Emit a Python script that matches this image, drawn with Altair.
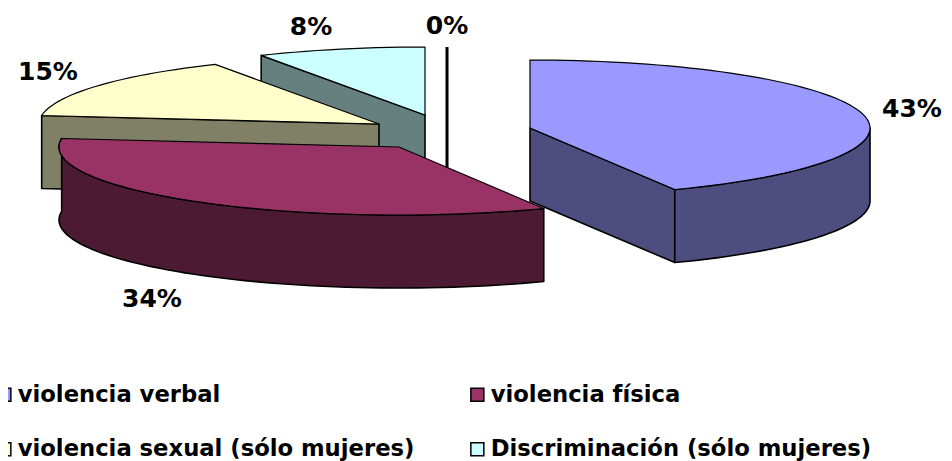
import math
import altair as alt

names = ["violencia verbal", "violencia física", "violencia sexual (sólo mujeres)", "Discriminación (sólo mujeres)", "otros"]
values = [43, 34, 15, 8, 0]
top_colors = ["#9999FF", "#993366", "#FFFFCC", "#CCFFFF"]
wall_colors = ["#4D4D80", "#4D1A33", "#808066", "#668080"]

# layout of the exploded, tilted pie (page pixels)
apex_x = [530, 399, 379, 425, 447]
apex_y = [128, 147, 124, 115, 115]
RX, RY, DEPTH = 340, 68, 73
label_x = [912, 152, 48, 311, 447]
label_y = [109, 299, 72, 27, 26]
M = 8
FONT = "DejaVu Sans"

total = sum(values)
def rim(i, a):
    r = math.radians(a)
    return [apex_x[i] + RX * math.sin(r) - M, apex_y[i] - RY * math.cos(r) - M]

def down(p):
    return [p[0], p[1] + DEPTH]

def feature(coords, name, color):
    ring = coords + [coords[0]]
    return {"type": "Feature", "properties": {"name": name, "color": color},
            "geometry": {"type": "Polygon", "coordinates": [ring]}}

tops, walls, zero = [], [], []
start = 0.0
spans = []
for i, v in enumerate(values):
    end = start + v / total * 360
    spans.append((start, end))
    start = end

for i in range(4):
    a0, a1 = spans[i]
    steps = max(2, int((a1 - a0) / 2))
    arc = [rim(i, a0 + (a1 - a0) * k / steps) for k in range(steps + 1)]
    apex = [apex_x[i] - M, apex_y[i] - M]
    tops.append(feature([apex] + arc, names[i], top_colors[i]))

# side walls, back to front
def radial_wall(i, a):
    p = rim(i, a)
    q = [apex_x[i] - M, apex_y[i] - M]
    return feature([q, p, down(p), down(q)], names[i], wall_colors[i])

def outer_wall(i, a0, a1):
    steps = max(2, int((a1 - a0) / 2))
    arc = [rim(i, a0 + (a1 - a0) * k / steps) for k in range(steps + 1)]
    return feature(arc + [down(p) for p in reversed(arc)], names[i], wall_colors[i])

walls.append(radial_wall(3, spans[3][0]))
walls.append(radial_wall(2, spans[2][0]))
walls.append(outer_wall(1, spans[1][0], spans[1][1]))
walls.append(radial_wall(0, spans[0][1]))
walls.append(outer_wall(0, 90, spans[0][1]))

p0 = rim(4, 0)
zero.append(feature([p0, [apex_x[4] - M, apex_y[4] - M + DEPTH]], names[4], "#000000"))

PROJ = dict(type="identity", scale=1, translate=[0, 0])

zero_layer = alt.Chart(alt.Data(values=zero)).mark_geoshape(
    stroke="#000000", strokeWidth=3, filled=False).project(**PROJ)

wall_layer = alt.Chart(alt.Data(values=walls)).mark_geoshape(
    stroke="#000000", strokeWidth=1.6, strokeJoin="round"
).encode(fill=alt.Fill("properties.color:N", scale=None)).project(**PROJ)

top_layer = alt.Chart(alt.Data(values=tops)).mark_geoshape(
    stroke="#000000", strokeWidth=1.2, strokeJoin="round"
).encode(
    fill=alt.Fill(
        "properties.name:N",
        sort=names[:4],
        scale=alt.Scale(domain=names[:4], range=top_colors),
        legend=alt.Legend(
            title=None, orient="none", legendX=-15, legendY=375, columns=2,
            direction="horizontal", padding=0,
            symbolType="square", symbolSize=169, symbolStrokeColor="#000000",
            symbolStrokeWidth=1.5, labelFont=FONT, labelFontSize=22.7,
            labelFontWeight="bold", labelColor="#000000", labelOffset=2,
            rowPadding=31, columnPadding=51, labelLimit=600,
            gridAlign="each",
        ),
    )
).project(**PROJ)

labels = [{"t": f"{v}%", "x": x - M, "y": y - M} for v, x, y in zip(values, label_x, label_y)]
label_layer = alt.Chart(alt.Data(values=labels)).mark_text(
    font=FONT, fontSize=25, fontWeight="bold", color="#000000", baseline="middle", align="center"
).encode(
    text="t:N",
    x=alt.X("x:Q", scale=None, axis=None),
    y=alt.Y("y:Q", scale=None, axis=None),
)

chart = alt.layer(zero_layer, wall_layer, top_layer, label_layer).properties(
    width=936, height=453, padding=0, autosize=alt.AutoSizeParams(type="none"),
).configure_view(stroke=None)

chart.save("out.html", embed_options={"renderer": "svg", "actions": False})
